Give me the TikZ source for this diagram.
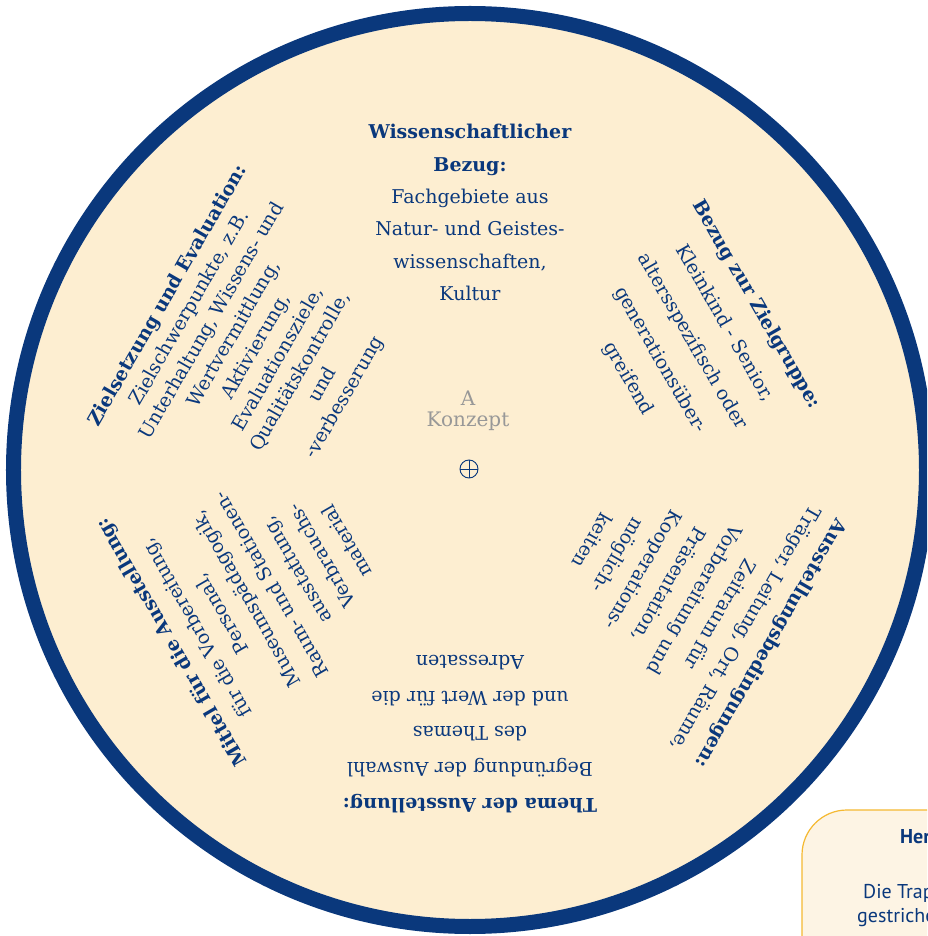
\documentclass[tikz,border=0pt]{standalone}
\usepackage{fontspec}
\setmainfont{DejaVu Serif}
\newfontfamily\bxfont{PT Sans}
\definecolor{navy}{RGB}{10,56,124}
\definecolor{creme}{RGB}{253,238,209}
\definecolor{grau}{RGB}{152,152,152}
\definecolor{gelb}{RGB}{245,185,50}
\definecolor{hell}{RGB}{253,244,228}
\tikzset{bl/.append style={align=center, text=navy, inner sep=0pt, anchor=north}}
\tikzset{bx/.append style={anchor=base west, text=navy, inner sep=0pt, font=\bxfont\fontsize{20}{24}\selectfont}}

\begin{document}
\begin{tikzpicture}[x=1pt,y=1pt]
                \useasboundingbox (-470,-466) rectangle (457,470);
                \clip (-470,-466) rectangle (457,470);
                \fill[white] (-470,-466) rectangle (457,470);
                \draw[navy, fill=creme, line width=15pt] (0,0) circle (456.5);
                % six sectors
                \node[bl, font=\fontsize{19}{32.4}\selectfont] (w) at (90:346)
                    {\textbf{Wissenschaftlicher}\\\textbf{Bezug:}\\Fachgebiete aus\\Natur- und Geistes-\\wissenschaften,\\Kultur};
                \node[bl, rotate=-60, font=\fontsize{19}{37}\selectfont] (z) at (30:340)
                    {\textbf{Bezug zur Zielgruppe:}\\Kleinkind - Senior,\\altersspezifisch oder\\generationsüber-\\greifend};
                \node[bl, rotate=-120, font=\fontsize{19}{29.5}\selectfont] (b) at (-30:356)
                    {\textbf{Ausstellungsbedingungen:}\\Träger, Leitung, Ort, Räume,\\Zeitraum für\\Vorbereitung und\\Präsentation,\\Kooperations-\\möglich-\\keiten};
                \node[bl, rotate=180, font=\fontsize{19}{35.7}\selectfont] (t) at (-90:343)
                    {\textbf{Thema der Ausstellung:}\\Begründung der Auswahl\\des Themas\\und der Wert für die\\Adressaten};
                \node[bl, rotate=120, font=\fontsize{19}{29}\selectfont] (m) at (-150:354)
                    {\textbf{Mittel für die Ausstellung:}\\für die Vorbereitung,\\Personal,\\Museumspädagogik,\\Raum- und Stationen-\\ausstattung,\\Verbrauchs-\\material};
                \node[bl, rotate=60, font=\fontsize{19}{25.5}\selectfont] (e) at (150:358)
                    {\textbf{Zielsetzung und Evaluation:}\\Zielschwerpunkte, z.B.\\Unterhaltung, Wissens- und\\Wertvermittlung,\\Aktivierung,\\Evaluationsziele,\\Qualitätskontrolle,\\und\\-verbesserung};
                % centre
                \node[align=center, text=grau, inner sep=0pt, font=\fontsize{20}{21}\selectfont] (k) at (-2,59) {A\\Konzept};
                \node[circle, draw=navy, line width=0.9pt, minimum size=18pt, inner sep=0pt] (o) at (-1,1) {};
                \draw[navy, line width=0.9pt] (o.north) -- (o.south) (o.west) -- (o.east);
                % box bottom right
                \draw[gelb, fill=hell, line width=1.2pt, rounded corners=45pt] (332,-340) rectangle (560,-560);
                \node[bx, font=\bxfont\bfseries\fontsize{20}{24}\selectfont] (h) at (430,-373) {Her};
                \node[bx] (d) at (393,-428) {Die Trap};
                \node[bx] (g) at (387,-452) {gestriche};
            \end{tikzpicture}
\end{document}
